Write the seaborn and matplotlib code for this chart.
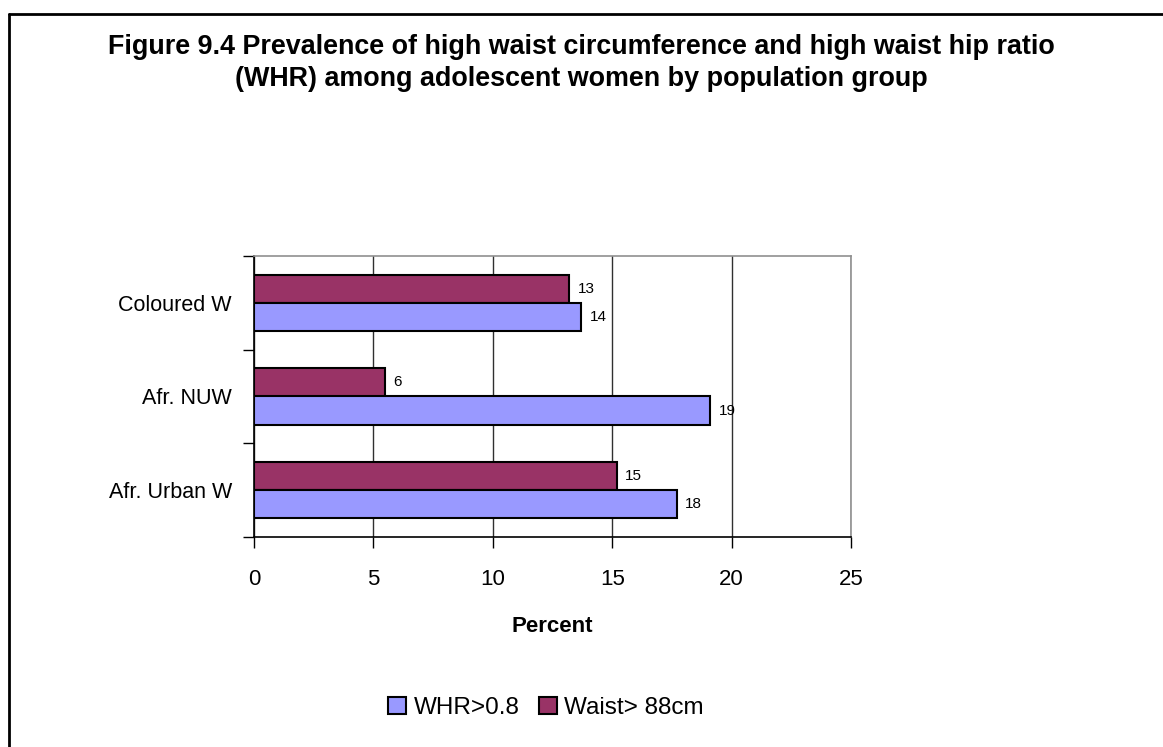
import matplotlib
matplotlib.use("Agg")
import matplotlib.pyplot as plt
import seaborn as sns
import pandas as pd
from matplotlib.patches import Patch
from matplotlib.lines import Line2D

groups = ["Coloured W", "Afr. NUW", "Afr. Urban W"]
whr = [13.7, 19.1, 17.7]
waist = [13.2, 5.5, 15.2]
series = ["WHR>0.8", "Waist> 88cm"]
colors = {"WHR>0.8": "#9999FF", "Waist> 88cm": "#993366"}
title = ("Figure 9.4 Prevalence of high waist circumference and high waist hip ratio\n"
         "(WHR) among adolescent women by population group")

df = pd.DataFrame({
    "Group": groups * 2,
    "Series": [series[0]] * 3 + [series[1]] * 3,
    "Percent": whr + waist,
})

sns.set_style("white")
plt.rcParams["font.family"] = ["Liberation Sans", "DejaVu Sans"]
plt.rcParams["text.color"] = "black"
plt.rcParams["axes.labelcolor"] = "black"
plt.rcParams["xtick.color"] = "black"
plt.rcParams["ytick.color"] = "black"

W, H = 1163, 747
fig = plt.figure(figsize=(W / 100, H / 100), dpi=100)
ax = fig.add_axes([254 / W, 1 - 537 / H, (851 - 254) / W, (537 - 256) / H])

sns.barplot(data=df, y="Group", x="Percent", hue="Series", order=groups,
            hue_order=["Waist> 88cm", "WHR>0.8"], palette=colors, orient="h",
            width=0.6, gap=0, saturation=1, edgecolor="black", linewidth=1.5,
            legend=False, ax=ax)

for c in ax.containers:
    ax.bar_label(c, labels=[f"{v:.0f}" for v in c.datavalues], padding=6, fontsize=11,
                 family=["Liberation Sans Narrow", "Liberation Sans"])

ax.set_xlim(0, 25)
ax.set_ylim(2.5, -0.5)
ax.set_xticks([0, 5, 10, 15, 20, 25])
ax.tick_params(axis="x", labelsize=16, length=8, width=1, direction="out", bottom=True, pad=15)
ax.tick_params(axis="y", labelsize=15.5, length=0, pad=16)
ax.set_yticks([-0.5, 0.5, 1.5, 2.5], minor=True)
ax.tick_params(axis="y", which="minor", length=8, width=1, direction="out", left=True)
ax.grid(axis="x", color="#303030", linewidth=1)
ax.set_axisbelow(True)
for s in ["left", "bottom"]:
    ax.spines[s].set_color("black")
    ax.spines[s].set_linewidth(1.2)
for s in ["top", "right"]:
    ax.spines[s].set_color("#909090")
    ax.spines[s].set_linewidth(1.2)

ax.set_ylabel("")
ax.set_xlabel("Percent", fontsize=16, fontweight="bold")
ax.xaxis.set_label_coords(0.5, -(626 - 537) / (537 - 256))
ax.xaxis.label.set_va("center")

fig.text(0.5, 1 - 63 / H, title, ha="center", va="center", fontsize=19.4,
         fontweight="bold", linespacing=1.25)

handles = [Patch(facecolor=colors[s], edgecolor="black", linewidth=1.5) for s in series]
fig.legend(handles, series, loc="center", bbox_to_anchor=(546 / W, 1 - 708 / H), ncol=2,
           frameon=False, fontsize=17.5, handlelength=0.74, handleheight=0.74,
           handletextpad=0.3, columnspacing=0.8)

x0, y0 = 9 / W, 1 - 14 / H
fig.add_artist(Line2D([x0, x0], [0, y0], color="black", linewidth=2))
fig.add_artist(Line2D([x0, 1], [y0, y0], color="black", linewidth=2))

fig.savefig("out.png", dpi=100)
